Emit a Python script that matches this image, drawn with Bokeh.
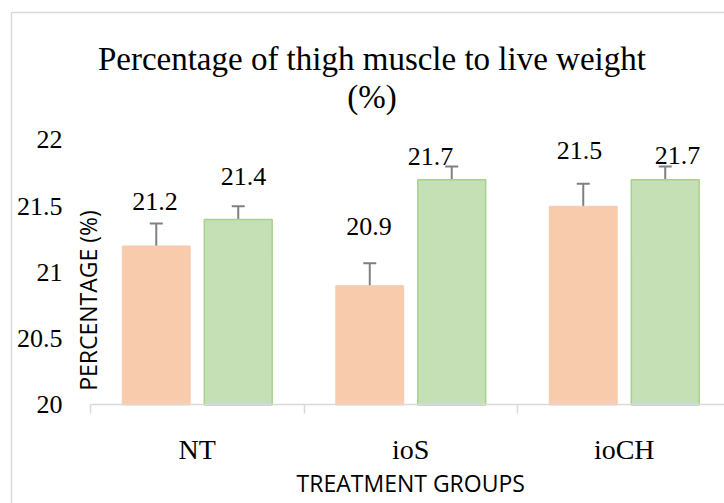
from bokeh.plotting import figure
from bokeh.models import (Range1d, FixedTicker, ColumnDataSource, Whisker, TeeHead,
                          LabelSet, Label)
from bokeh.core.properties import value
from bokeh.embed import file_html
from bokeh.resources import INLINE

# ---------------- data ----------------
categories = ["NT", "ioS", "ioCH"]
values_orange = [21.2, 20.9, 21.5]
values_green = [21.4, 21.7, 21.7]
errors_orange = [0.17, 0.17, 0.17]
errors_green = [0.10, 0.10, 0.10]
y_ticks = [20, 20.5, 21, 21.5, 22]
y_tick_labels = ["20", "20.5", "21", "21.5", "22"]
title_lines = ["Percentage of thigh muscle to live weight", "(%)"]
y_title = "PERCENTAGE (%)"
x_title = "TREATMENT GROUPS"

# ---------------- layout / style ----------------
Y_MIN, Y_MAX = 20, 22
# visible window of the chart (the frame spans the whole figure)
X_VIEW = (-0.42155, 2.96956)
Y_VIEW = (19.2566, 23.0528)
BAR_W = 0.318
OFFSET = 0.192
LABEL_DX_ORANGE = [-0.198, -0.196, -0.21]
LABEL_DX_GREEN = [0.217, 0.093, 0.25]
LABEL_Y_ORANGE = [21.536, 21.347, 21.921]
LABEL_Y_GREEN = [21.725, 21.875, 21.883]
TITLE_X = 1.318
TITLE_Y = [22.608, 22.325]
YTITLE_POS = (-0.014, 20.789)
XTITLE_Y = 19.408
BORDER = dict(left=-0.37, top=22.962, right=4.0, bottom=19.0)
ORANGE = "#F8CBAD"
GREEN = "#C5E0B4"
GREEN_LINE = "#A9D18E"
ERR = "#808080"
AXIS_GRAY = "#D9D9D9"
SERIF = "Liberation Serif"
SANS = "Open Sans"

centers = [i + 0.5 for i in range(len(categories))]
x_orange = [c - OFFSET for c in centers]
x_green = [c + OFFSET for c in centers]

p = figure(width=724, height=503, output_backend="svg", toolbar_location=None,
           title=None,
           x_range=Range1d(*X_VIEW), y_range=Range1d(*Y_VIEW),
           min_border=0, min_border_left=0, min_border_right=0,
           min_border_top=0, min_border_bottom=0)
p.outline_line_color = None
p.xgrid.grid_line_color = None
p.ygrid.grid_line_color = None
p.background_fill_color = "white"
p.border_fill_color = "white"

# chart-area border
p.quad(left=[BORDER["left"]], right=[BORDER["right"]], top=[BORDER["top"]],
       bottom=[BORDER["bottom"]], fill_color=None, line_color=AXIS_GRAY,
       line_width=1.5)

# bars
p.vbar(x=x_orange, top=values_orange, bottom=Y_MIN, width=BAR_W,
       fill_color=ORANGE, line_color=ORANGE, line_width=1)
p.vbar(x=x_green, top=values_green, bottom=Y_MIN, width=BAR_W,
       fill_color=GREEN, line_color=GREEN_LINE, line_width=1.5)

# error bars
for xs, vals, errs in [(x_orange, values_orange, errors_orange),
                       (x_green, values_green, errors_green)]:
    src = ColumnDataSource(dict(x=xs,
                                upper=[v + e for v, e in zip(vals, errs)],
                                lower=[v - e for v, e in zip(vals, errs)]))
    p.add_layout(Whisker(base="x", upper="upper", lower="lower", source=src,
                         line_color=ERR, line_width=2,
                         upper_head=TeeHead(size=13, line_color=ERR, line_width=2),
                         lower_head=TeeHead(size=13, line_color=ERR, line_width=2)))

# data labels
for vals, dxs, ys in [(values_orange, LABEL_DX_ORANGE, LABEL_Y_ORANGE),
                      (values_green, LABEL_DX_GREEN, LABEL_Y_GREEN)]:
    src = ColumnDataSource(dict(x=[c + d for c, d in zip(centers, dxs)], y=ys,
                                text=[f"{v:.1f}" for v in vals]))
    p.add_layout(LabelSet(x="x", y="y", text="text", source=src,
                          text_align="center", text_baseline="middle",
                          text_font=value(SERIF), text_font_size=value("26px"),
                          text_color="#000000"))

# x axis (sits on y = 20)
xa = p.xaxis[0]
xa.fixed_location = Y_MIN
xa.bounds = (0, X_VIEW[1])
xa.ticker = FixedTicker(ticks=centers, minor_ticks=list(range(len(categories) + 1)))
xa.major_label_overrides = {c: n for c, n in zip(centers, categories)}
xa.major_tick_line_color = None
xa.major_tick_out = 0
xa.major_tick_in = 0
xa.minor_tick_line_color = AXIS_GRAY
xa.minor_tick_line_width = 1.5
xa.minor_tick_out = 9
xa.minor_tick_in = 0
xa.axis_line_color = AXIS_GRAY
xa.axis_line_width = 1.5
xa.major_label_standoff = 20
xa.major_label_text_font = SERIF
xa.major_label_text_font_size = "28px"
xa.major_label_text_color = "#000000"

# y axis (sits on x = 0)
ya = p.yaxis[0]
ya.fixed_location = 0
ya.bounds = (Y_MIN, Y_MAX)
ya.ticker = FixedTicker(ticks=y_ticks)
ya.major_label_overrides = {t: s for t, s in zip(y_ticks, y_tick_labels)}
ya.axis_line_color = None
ya.major_tick_line_color = None
ya.minor_tick_line_color = None
ya.major_tick_out = 0
ya.major_tick_in = 0
ya.major_label_standoff = 28
ya.major_label_text_font = SERIF
ya.major_label_text_font_size = "26px"
ya.major_label_text_color = "#000000"

# titles
for line, ty in zip(title_lines, TITLE_Y):
    p.add_layout(Label(x=TITLE_X, y=ty, text=line, text_align="center",
                       text_baseline="middle", text_font=SERIF,
                       text_font_size="33px", text_color="#000000"))
p.add_layout(Label(x=YTITLE_POS[0], y=YTITLE_POS[1], text=y_title, angle=1.5707963,
                   text_align="center", text_baseline="middle", text_font=SANS,
                   text_font_size="23px", text_color="#000000"))
p.add_layout(Label(x=len(categories) / 2, y=XTITLE_Y, text=x_title,
                   text_align="center", text_baseline="middle", text_font=SANS,
                   text_font_size="23px", text_color="#000000"))

open("out.html", "w").write(file_html(p, INLINE))
